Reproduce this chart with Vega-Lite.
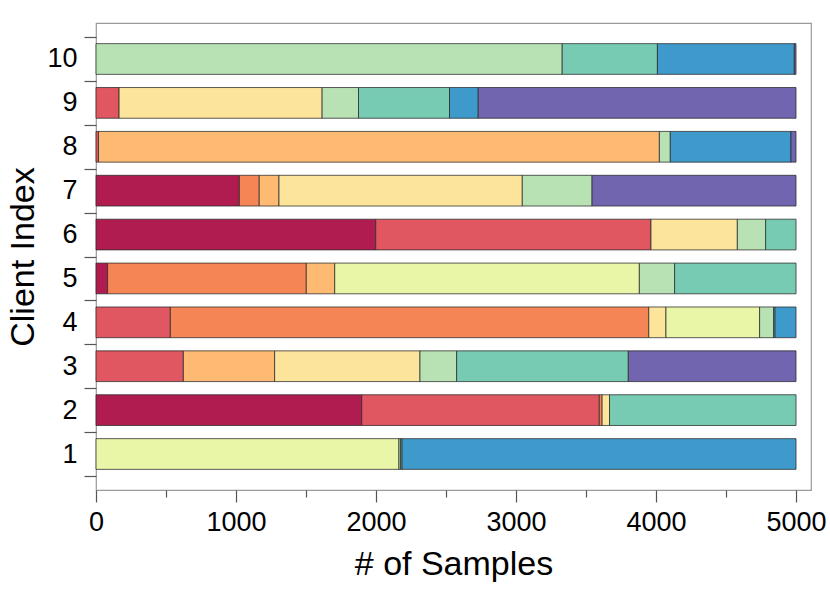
{
  "$schema": "https://vega.github.io/schema/vega-lite/v6.json",
  "autosize": "none",
  "width": 715,
  "height": 467,
  "padding": {"left": 96, "top": 23, "right": 19, "bottom": 110},
  "background": "white",
  "config": {
    "font": "Liberation Sans",
    "view": {"stroke": "#9a9a9a", "strokeWidth": 1.2},
    "axis": {"domain": false, "grid": false, "tickColor": "#555", "tickWidth": 1.2, "labelColor": "#000", "titleColor": "#000", "titleFontWeight": "normal"}
  },
  "data": {
    "values": [
      {"client": 1, "cls": 5, "n": 2164}, {"client": 1, "cls": 6, "n": 12}, {"client": 1, "cls": 7, "n": 10}, {"client": 1, "cls": 8, "n": 2814},
      {"client": 2, "cls": 0, "n": 1898}, {"client": 2, "cls": 1, "n": 1697}, {"client": 2, "cls": 2, "n": 20}, {"client": 2, "cls": 4, "n": 53}, {"client": 2, "cls": 7, "n": 1332},
      {"client": 3, "cls": 1, "n": 624}, {"client": 3, "cls": 3, "n": 652}, {"client": 3, "cls": 4, "n": 1038}, {"client": 3, "cls": 6, "n": 262}, {"client": 3, "cls": 7, "n": 1226}, {"client": 3, "cls": 9, "n": 1198},
      {"client": 4, "cls": 1, "n": 531}, {"client": 4, "cls": 2, "n": 3417}, {"client": 4, "cls": 4, "n": 123}, {"client": 4, "cls": 5, "n": 669}, {"client": 4, "cls": 6, "n": 100}, {"client": 4, "cls": 7, "n": 10}, {"client": 4, "cls": 8, "n": 150},
      {"client": 5, "cls": 0, "n": 83}, {"client": 5, "cls": 2, "n": 1419}, {"client": 5, "cls": 3, "n": 203}, {"client": 5, "cls": 5, "n": 2176}, {"client": 5, "cls": 6, "n": 252}, {"client": 5, "cls": 7, "n": 867},
      {"client": 6, "cls": 0, "n": 1998}, {"client": 6, "cls": 1, "n": 1966}, {"client": 6, "cls": 4, "n": 617}, {"client": 6, "cls": 6, "n": 202}, {"client": 6, "cls": 7, "n": 217},
      {"client": 7, "cls": 0, "n": 1024}, {"client": 7, "cls": 2, "n": 142}, {"client": 7, "cls": 3, "n": 141}, {"client": 7, "cls": 4, "n": 1738}, {"client": 7, "cls": 6, "n": 498}, {"client": 7, "cls": 9, "n": 1457},
      {"client": 8, "cls": 1, "n": 18}, {"client": 8, "cls": 3, "n": 4006}, {"client": 8, "cls": 6, "n": 78}, {"client": 8, "cls": 8, "n": 862}, {"client": 8, "cls": 9, "n": 36},
      {"client": 9, "cls": 1, "n": 165}, {"client": 9, "cls": 4, "n": 1450}, {"client": 9, "cls": 6, "n": 260}, {"client": 9, "cls": 7, "n": 650}, {"client": 9, "cls": 8, "n": 205}, {"client": 9, "cls": 9, "n": 2270},
      {"client": 10, "cls": 6, "n": 3330}, {"client": 10, "cls": 7, "n": 680}, {"client": 10, "cls": 8, "n": 978}, {"client": 10, "cls": 9, "n": 12}
    ]
  },
  "mark": {"type": "bar", "height": {"band": 0.7}, "stroke": "#2a2a2a", "strokeWidth": 0.9, "strokeOpacity": 0.85},
  "encoding": {
    "y": {
      "field": "client",
      "type": "ordinal",
      "sort": "descending",
      "scale": {"paddingInner": 0, "paddingOuter": 0.32},
      "axis": {
        "title": "Client Index",
        "titleFontSize": 34,
        "titlePadding": 6,
        "labelFontSize": 27,
        "labelPadding": 7,
        "tickSize": 12,
        "tickBand": "extent"
      }
    },
    "x": {
      "field": "n",
      "type": "quantitative",
      "aggregate": "sum",
      "stack": "zero",
      "scale": {"domain": [0, 5107], "nice": false, "zero": true},
      "axis": {
        "title": "# of Samples",
        "titleFontSize": 34,
        "titlePadding": 12,
        "labelFontSize": 27,
        "labelPadding": 7,
        "labelFlush": false,
        "format": "d",
        "values": [0, 500, 1000, 1500, 2000, 2500, 3000, 3500, 4000, 4500, 5000],
        "labelExpr": "datum.value % 1000 == 0 ? datum.label : ''",
        "tickSize": {"condition": {"test": "datum.value % 1000 != 0", "value": 7}, "value": 12}
      }
    },
    "color": {
      "field": "cls",
      "type": "ordinal",
      "legend": null,
      "scale": {
        "domain": [0, 1, 2, 3, 4, 5, 6, 7, 8, 9],
        "range": ["#b01c50", "#e05661", "#f68556", "#feba72", "#fde49b", "#e9f5a7", "#b9e2b4", "#78cbb3", "#3d9aca", "#7265b0"]
      }
    },
    "order": {"field": "cls", "type": "quantitative", "sort": "ascending"}
  }
}
